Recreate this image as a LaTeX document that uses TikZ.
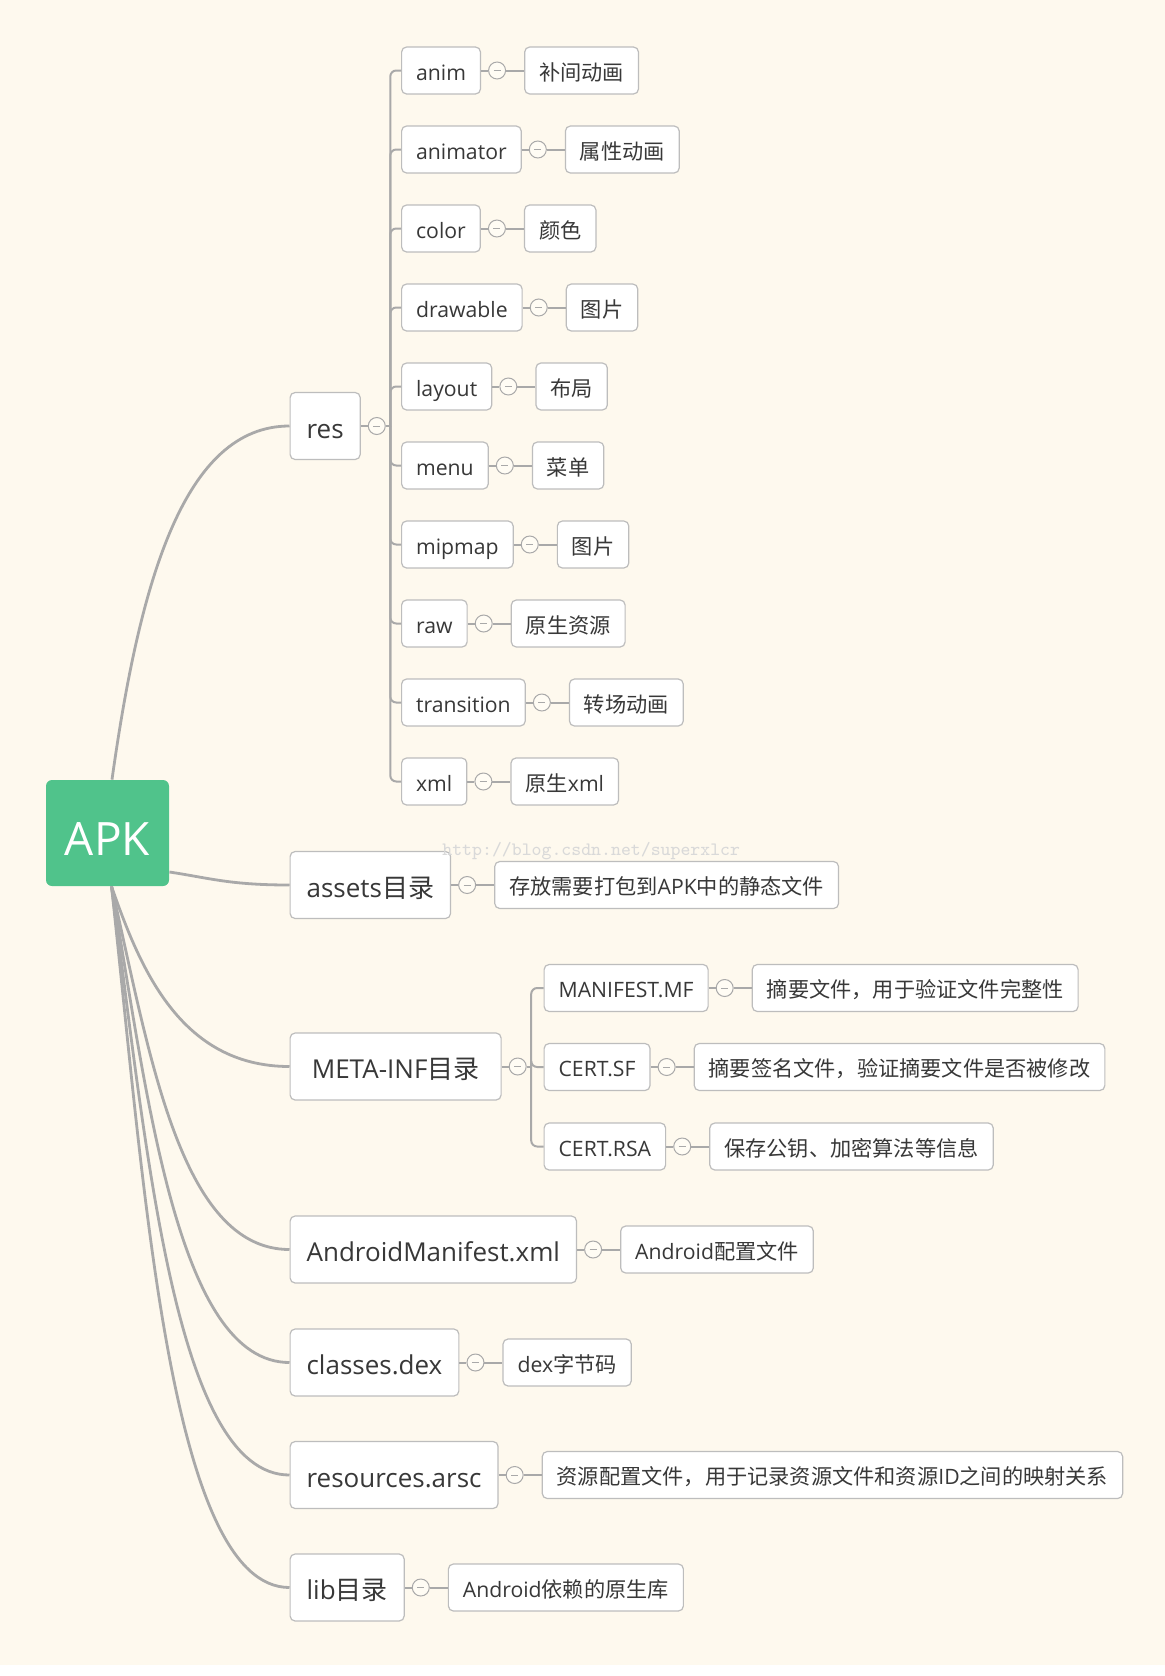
\documentclass[tikz,border=0pt]{standalone}
\usepackage{fontspec}
\setmainfont{Open Sans}
\newfontfamily\zh{Noto Sans CJK SC}
\usetikzlibrary{positioning}
\definecolor{bgColor}{HTML}{FEF9EE}
\definecolor{apkColor}{HTML}{50C38B}
\definecolor{lnColor}{HTML}{A9A9A9}
\definecolor{bxColor}{HTML}{BDBDBD}
\definecolor{txColor}{HTML}{383838}
\definecolor{foldColor}{HTML}{FFFCF4}
\definecolor{wmColor}{HTML}{D9D9D9}
\tikzset{
	root/.style={fill=apkColor, text=white, rounded corners=3pt, inner sep=0pt,
		minimum width=61.5pt, minimum height=53pt, text height=23pt, text depth=1pt,
		font=\fontsize{23}{23}\selectfont},
	topic/.style={draw=bxColor, fill=white, line width=0.6pt, rounded corners=2.5pt,
		text=txColor, anchor=west, inner xsep=8.25pt, inner ysep=0pt, minimum height=33.5pt,
		text height=14.8pt, text depth=2.5pt, font=\fontsize{13}{13}\selectfont},
	subtopic/.style={topic, inner xsep=7.25pt, minimum height=23.5pt,
		text height=11.5pt, text depth=2pt, font=\fontsize{10.6}{10.6}\selectfont},
	fold/.style={circle, draw=lnColor, fill=foldColor, line width=0.5pt, minimum size=8.5pt, inner sep=0pt,
		path picture={\draw[lnColor, line width=0.5pt]
			([xshift=-1.75pt]path picture bounding box.center) -- ([xshift=1.75pt]path picture bounding box.center);}},
	link/.style={draw=lnColor, line width=1pt},
	branch/.style={draw=lnColor, line width=1.4pt},
	wmark/.style={text=wmColor, inner sep=0pt, font=\ttfamily\fontsize{9.45}{9.45}\selectfont}
}

\begin{document}
\begin{tikzpicture}[x=0.5pt,y=-0.5pt,node distance=9pt]
	\useasboundingbox (0,0) rectangle (1165,1676);
	\fill[bgColor] (0,0) rectangle (1165,1665);
	\node[root] at (107.5,833) (APK) {APK};
	% first level
	\node[topic] at (289.5,426) (res) {res};
	\node[topic] at (289.5,885) (assets) {assets{\zh 目录}};
	\node[topic, minimum width=105.5pt] at (289.5,1066.5) (meta) {META-INF{\zh 目录}};
	\node[topic] at (289.5,1249.5) (manifest) {AndroidManifest.xml};
	\node[topic] at (289.5,1362.5) (classes) {classes.dex};
	\node[topic] at (289.5,1475) (arsc) {resources.arsc};
	\node[topic] at (289.5,1587.5) (lib) {lib{\zh 目录}};
	\draw[branch] ([xshift=2.25pt]APK.north) .. controls +(28,-200) and +(-105,0) .. (res.west);
	\draw[branch] ([yshift=-19.5pt]APK.east) .. controls +(40,6) and +(-60,0) .. (assets.west);
	\draw[branch] ([xshift=2pt]APK.south) .. controls +(28,80) and +(-110,0) .. (meta.west);
	\draw[branch] ([xshift=2pt]APK.south) .. controls +(38,165) and +(-110,0) .. (manifest.west);
	\draw[branch] ([xshift=2pt]APK.south) .. controls +(36,210) and +(-112,0) .. (classes.west);
	\draw[branch] ([xshift=2pt]APK.south) .. controls +(35,260) and +(-115,0) .. (arsc.west);
	\draw[branch] ([xshift=2pt]APK.south) .. controls +(33,300) and +(-120,0) .. (lib.west);
	% res folder
	\foreach \n [count=\i from 0] in {anim,animator,color,drawable,layout,menu,mipmap,raw,transition,xml}
		\node[subtopic] at (401,{70.5+79*\i}) (\n) {\n};
	\node[fold, right=3.5pt of res] (res_c) {};
	\coordinate (res_j) at ([xshift=2.25pt]res_c.east);
	\draw[link] (res) -- (res_c);
	\draw[link] (res_c) -- (res_j);
	\foreach \n in {anim,animator,color,drawable,layout,menu,mipmap,raw,transition,xml}
		\draw[link, rounded corners=3pt] (res_j) |- (\n.west);
	% META-INF folder
	\node[subtopic] at (543.5,988) (mf) {MANIFEST.MF};
	\node[subtopic] at (543.5,1067) (sf) {CERT.SF};
	\node[subtopic] at (543.5,1146.5) (rsa) {CERT.RSA};
	\node[fold, right=3.5pt of meta] (meta_c) {};
	\coordinate (meta_j) at ([xshift=2.25pt]meta_c.east);
	\draw[link] (meta) -- (meta_c);
	\draw[link] (meta_c) -- (meta_j);
	\foreach \n in {mf,sf,rsa}
		\draw[link, rounded corners=3pt] (meta_j) |- (\n.west);
	% notes
	\foreach \n/\t in {anim/{\zh 补间动画}, animator/{\zh 属性动画}, color/{\zh 颜色}, drawable/{\zh 图片},
			layout/{\zh 布局}, menu/{\zh 菜单}, mipmap/{\zh 图片}, raw/{\zh 原生资源},
			transition/{\zh 转场动画}, xml/{{\zh 原生}xml},
			mf/{\zh 摘要文件，用于验证文件完整性}, sf/{\zh 摘要签名文件，验证摘要文件是否被修改},
			rsa/{\zh 保存公钥、加密算法等信息},
			assets/{{\zh 存放需要打包到}APK{\zh 中的静态文件}}, manifest/{Android{\zh 配置文件}},
			classes/{dex{\zh 字节码}}, arsc/{{\zh 资源配置文件，用于记录资源文件和资源}ID{\zh 之间的映射关系}},
			lib/{Android{\zh 依赖的原生库}}}
	{
		\node[fold, right=3.5pt of \n] (\n_c) {};
		\node[subtopic, right=of \n_c] (\n_t) {\t};
		\draw[link] (\n) -- (\n_c);
		\draw[link] (\n_c) -- (\n_t);
	}
	\node[wmark, anchor=base west] at (442,855) (wm) {http://blog.csdn.net/superxlcr};
\end{tikzpicture}
\end{document}
